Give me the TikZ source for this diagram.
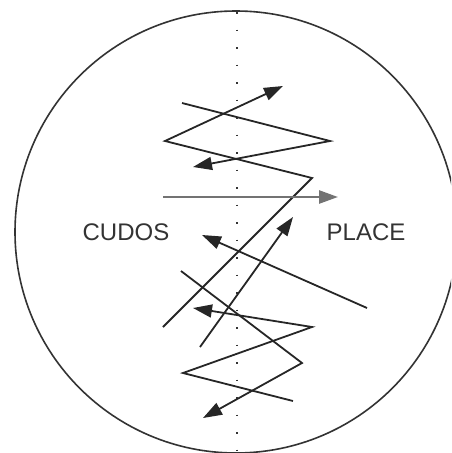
\documentclass[tikz,border=0pt]{standalone}
\usepackage{fontspec}
\setmainfont{Liberation Sans}
\usetikzlibrary{arrows.meta}
\begin{document}
\begin{tikzpicture}[x=1pt,y=-1pt,
  ln/.style={line width=1.8pt,black!85,line join=miter},
  arr/.style={ln,-{Triangle[length=19pt,width=13pt]}},
  grayarr/.style={line width=2.6pt,black!55,-{Triangle[length=19pt,width=13pt]}},
  lbl/.style={font=\fontsize{24pt}{24pt}\selectfont,text=black!80,inner sep=0pt}]
\useasboundingbox (0,0) rectangle (451,453);
\begin{scope}
\clip (0,0) rectangle (451,453);
\draw[line width=1.6pt,black!80] (236,232) circle (221);
\draw[line width=1.8pt,black!80,dash pattern=on 1.8pt off 15.7pt] (237,12) -- (237,453);
\end{scope}
\node[lbl] (cudos) at (126,232) {CUDOS};
\node[lbl] (place) at (366,232) {PLACE};
% path 1
\coordinate (a1) at (182,103);
\coordinate (a2) at (330,141);
\coordinate (a3) at (193,167);
\draw[arr] (a1) -- (a2) -- (a3);
% path 2
\coordinate (b1) at (163,327);
\coordinate (b2) at (312,178);
\coordinate (b3) at (165,141);
\coordinate (b4) at (283,86);
\draw[arr] (b1) -- (b2) -- (b3) -- (b4);
% gray horizontal
\coordinate (g1) at (163,197);
\coordinate (g2) at (338,197);
\draw[grayarr] (g1) -- (g2);
% path 4
\coordinate (c1) at (367,308);
\coordinate (c2) at (202,235);
\draw[arr] (c1) -- (c2);
% path 5
\coordinate (d1) at (200,347);
\coordinate (d2) at (293,217);
\draw[arr] (d1) -- (d2);
% path 6
\coordinate (e1) at (181,271);
\coordinate (e2) at (302,363);
\coordinate (e3) at (203,418);
\draw[arr] (e1) -- (e2) -- (e3);
% path 7
\coordinate (f1) at (293,401);
\coordinate (f2) at (183,373);
\coordinate (f3) at (312,327);
\coordinate (f4) at (193,308);
\draw[arr] (f1) -- (f2) -- (f3) -- (f4);
\end{tikzpicture}
\end{document}
